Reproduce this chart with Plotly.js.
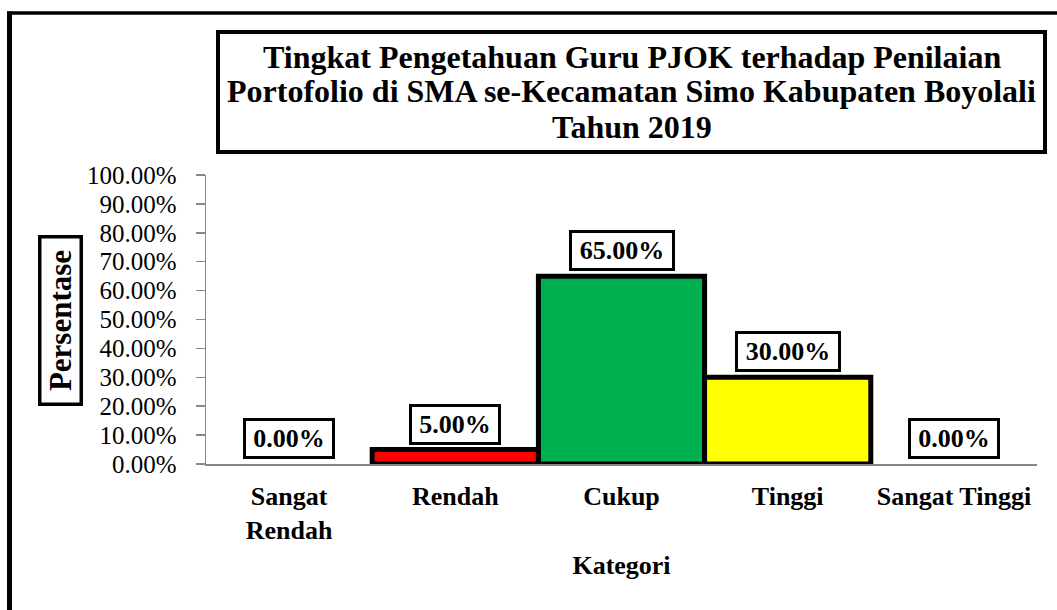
<!DOCTYPE html>
<html>
<head>
<meta charset="utf-8">
<script src="https://cdn.plot.ly/plotly-3.0.1.min.js"></script>
<style>
  html, body { margin: 0; padding: 0; background: #fff; }
  #chart { width: 1057px; height: 610px; }
</style>
</head>
<body>
<div id="chart"></div>
<script>
// ---- Data ----
const categories = ["Sangat<br>Rendah", "Rendah", "Cukup", "Tinggi", "Sangat Tinggi"];
const values = [0.00, 0.05, 0.65, 0.30, 0.00];
const barColors = ["#FFFFFF", "#FF0000", "#00B050", "#FFFF00", "#FFFFFF"];
const titleLines = [
  "Tingkat Pengetahuan Guru PJOK terhadap Penilaian",
  "Portofolio di SMA se-Kecamatan Simo Kabupaten Boyolali",
  "Tahun 2019"
];
const yTitle = "Persentase";
const xTitle = "Kategori";

// ---- Layout geometry ----
const W = 1057, H = 610;
const M = { l: 206, r: 20, t: 175, b: 146 };
const PW = W - M.l - M.r, PH = H - M.t - M.b;
const px = x => (x - M.l) / PW;
const py = y => (H - M.b - y) / PH;

const FONT = "Liberation Serif, Times New Roman, serif";

const fmt = v => (v * 100).toFixed(2) + "%";

const trace = {
  type: "bar",
  x: categories,
  y: values,
  marker: {
    color: barColors,
    line: { color: "#000", width: values.map(v => v > 0 ? 5 : 0) }
  },
  hoverinfo: "none"
};

const annotations = [];
// data labels
values.forEach((v, i) => {
  const t = fmt(v);
  annotations.push({
    x: categories[i], y: v, xref: "x", yref: "y",
    text: "<b>" + t + "</b>",
    showarrow: false,
    yanchor: "bottom", yshift: 5,
    font: { family: FONT, size: 26, color: "#000" },
    bgcolor: "#fff", bordercolor: "#000", borderwidth: 3, borderpad: 3,
    width: 10 + 14 * t.length, height: 29
  });
});
// title lines
const titleCenters = [56.5, 91.5, 126.5];
titleLines.forEach((t, i) => {
  annotations.push({
    x: px(631.5), y: py(titleCenters[i]), xref: "paper", yref: "paper",
    text: "<b>" + t + "</b>", showarrow: false,
    xanchor: "center", yanchor: "middle",
    font: { family: FONT, size: 32, color: "#000" }
  });
});
// y axis title (boxed)
annotations.push({
  x: px(60.5), y: py(320.5), xref: "paper", yref: "paper",
  text: "<b>" + yTitle + "</b>", showarrow: false, textangle: -90,
  xanchor: "center", yanchor: "middle",
  font: { family: FONT, size: 31, color: "#000" },
  bgcolor: "#fff", bordercolor: "#000", borderwidth: 3.5, borderpad: 2,
  width: 160, height: 34
});

const shapes = [
  // title box
  { type: "rect", xref: "paper", yref: "paper",
    x0: px(218), x1: px(1045), y0: py(32), y1: py(152),
    line: { color: "#000", width: 4 }, fillcolor: "rgba(0,0,0,0)" },
  // outer frame (left and top edges; the rest is outside the picture)
  { type: "line", xref: "paper", yref: "paper",
    x0: px(9.5), x1: px(9.5), y0: py(11.5), y1: py(620),
    line: { color: "#000", width: 5 } },
  { type: "line", xref: "paper", yref: "paper",
    x0: px(7), x1: px(1070), y0: py(13), y1: py(13),
    line: { color: "#000", width: 3.5 } }
];

const layout = {
  width: W, height: H,
  margin: M,
  paper_bgcolor: "#fff", plot_bgcolor: "#fff",
  showlegend: false,
  bargap: 0,
  font: { family: FONT, color: "#000" },
  xaxis: {
    type: "category",
    showline: true, linecolor: "#888", linewidth: 1.5,
    ticks: "", showgrid: false, zeroline: false,
    tickfont: { family: FONT, size: 26, color: "#000", weight: "bold" },
    ticklabelstandoff: 8,
    layer: "below traces",
    title: { text: "<b>" + xTitle + "</b>", font: { family: FONT, size: 26, color: "#000" }, standoff: 12 },
    automargin: false
  },
  yaxis: {
    range: [0, 1], dtick: 0.1, tick0: 0,
    tickformat: ".2%",
    showline: true, linecolor: "#888", linewidth: 1.5,
    ticks: "outside", ticklen: 9, tickcolor: "#888", tickwidth: 1.5,
    showgrid: false, zeroline: false,
    tickfont: { family: FONT, size: 25, color: "#000" },
    ticklabelstandoff: 14,
    layer: "below traces",
    automargin: false
  },
  annotations: annotations,
  shapes: shapes
};

Plotly.newPlot("chart", [trace], layout, { displayModeBar: false, staticPlot: true });
</script>
</body>
</html>
